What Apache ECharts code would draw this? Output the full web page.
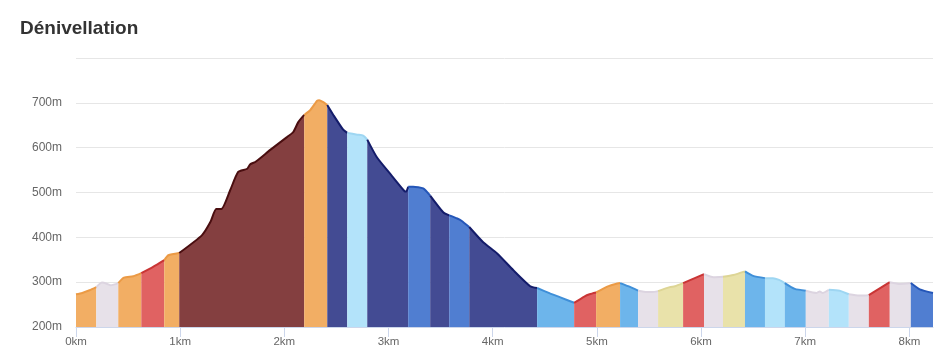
<!DOCTYPE html>
<html>
<head>
<meta charset="utf-8">
<script src="https://cdn.jsdelivr.net/npm/echarts@6/dist/echarts.min.js"></script>
<style>
html,body{margin:0;padding:0;background:#fff;}
#chart{width:942px;height:360px;}
</style>
</head>
<body>
<div id="chart"></div>
<script>
// Profile points: distance (km) and elevation (m)
const distKm = [0,0.06,0.13,0.195,0.25,0.3,0.33,0.37,0.406,0.46,0.55,0.627,0.74,0.847,0.887,0.991,
  1.21,1.29,1.346,1.395,1.48,1.557,1.644,1.673,1.721,1.865,2.028,2.086,2.134,2.191,2.25,2.316,2.335,2.37,2.412,
  2.47,2.565,2.604,2.70,2.757,2.796,2.89,3.015,3.15,3.17,3.189,3.237,3.333,3.400,3.525,3.583,3.66,3.70,3.775,
  3.909,4.043,4.197,4.36,4.427,4.55,4.65,4.782,4.88,4.93,4.993,5.10,5.18,5.223,5.30,5.396,5.48,5.53,5.588,5.70,5.75,
  5.828,6.029,6.12,6.211,6.31,6.422,6.5,6.614,6.69,6.75,6.804,6.9,7.006,7.11,7.14,7.17,7.227,7.33,7.419,7.52,
  7.611,7.812,7.91,8.014,8.10,8.227];
const elevM = [273,276,282,289,299,296,293,295,298,310,313,320,334,349,360,365,
  405,434,463,463,505,546,553,563,568,595,624,635,657,673,684,705,706,702,695,
  673,640,633,629,627,618,578,542,504,502,513,513,509,493,456,449,442,437,423,
  389,364,327,291,287,275,266,254,268,273,277,290,296,298,291,281,278,278,280,289,291,
  298,318,311,312,316,324,314,309,309,305,298,285,281,276,279,276,283,281,273,270,
  271,300,296,298,284,276];
// Segment ends (km) and gradient class of each segment
const segEndKm = [0.195,0.406,0.627,0.847,0.991,2.191,2.412,2.604,2.796,3.189,3.400,3.583,3.775,4.427,4.782,
  4.993,5.223,5.396,5.588,5.828,6.029,6.211,6.422,6.614,6.804,7.006,7.227,7.419,7.611,7.812,8.014,8.227];
const segClass = ['upGentle','flat','upGentle','upMod','upGentle','upSteep','upGentle','downSteep','downLight',
  'downSteep','downMod','downSteep','downMod','downSteep','downSoft','upMod','upGentle','downSoft','flat','upLight',
  'upMod','flat','upLight','downSoft','downLight','downSoft','flat','downLight','flat','upMod','flat','downMod'];
const yTicks = [200,300,400,500,600,700,800];
const xTicks = [0,1,2,3,4,5,6,7,8];

const palette = {
  upGentle:  {fill:'#f2ae64', line:'#eb9a45'},
  flat:      {fill:'#e7e1e9', line:'#dcd4e0'},
  upMod:     {fill:'#e06262', line:'#c93535'},
  upSteep:   {fill:'#843f40', line:'#4a0e10'},
  downSteep: {fill:'#434b93', line:'#141c6a'},
  downLight: {fill:'#b3e3fa', line:'#9ed6f2'},
  downSoft:  {fill:'#6db5eb', line:'#3f8fd8'},
  downMod:   {fill:'#507ed1', line:'#2456b8'},
  upLight:   {fill:'#e9e2aa', line:'#ddd595'}
};

const series = [];
let start = 0;
segEndKm.forEach((end, i) => {
  const pts = [];
  for (let k = 0; k < distKm.length; k++) {
    if (distKm[k] >= start - 1e-9 && distKm[k] <= end + 1e-9) pts.push([distKm[k], elevM[k]]);
  }
  const c = palette[segClass[i]];
  series.push({
    type: 'line', data: pts, symbol: 'none', smooth: 0.2,
    lineStyle: {color: c.line, width: 2},
    areaStyle: {color: c.fill, opacity: 1, origin: 'start'},
    itemStyle: {color: c.fill},
    z: 2
  });
  start = end;
});

const chart = echarts.init(document.getElementById('chart'));
chart.setOption({
  animation: false,
  title: {
    text: 'Dénivellation', left: 15, top: 14,
    textStyle: {fontFamily: 'Liberation Sans, Arial, sans-serif', fontSize: 19, fontWeight: 'bold', color: '#333'}
  },
  grid: {left: 76, right: 9, top: 58, bottom: 33},
  xAxis: {
    type: 'value', min: 0, max: distKm[distKm.length - 1], interval: 1,
    axisLine: {show: true, lineStyle: {color: '#ccd6eb'}},
    axisTick: {show: true, length: 10, lineStyle: {color: '#ccd6eb'}, customValues: xTicks},
    axisLabel: {customValues: xTicks, formatter: v => v + 'km', color: '#666', fontSize: 11.5,
      fontFamily: 'Liberation Sans, Arial, sans-serif', margin: 9},
    splitLine: {show: false}
  },
  yAxis: {
    type: 'value', min: yTicks[0], max: yTicks[yTicks.length - 1], interval: 100,
    axisLine: {show: false}, axisTick: {show: false},
    axisLabel: {formatter: v => v + 'm', color: '#666', fontSize: 12, showMaxLabel: false,
      fontFamily: 'Liberation Sans, Arial, sans-serif', margin: 14},
    splitLine: {lineStyle: {color: '#e6e6e6'}}
  },
  series: series
});
</script>
</body>
</html>
